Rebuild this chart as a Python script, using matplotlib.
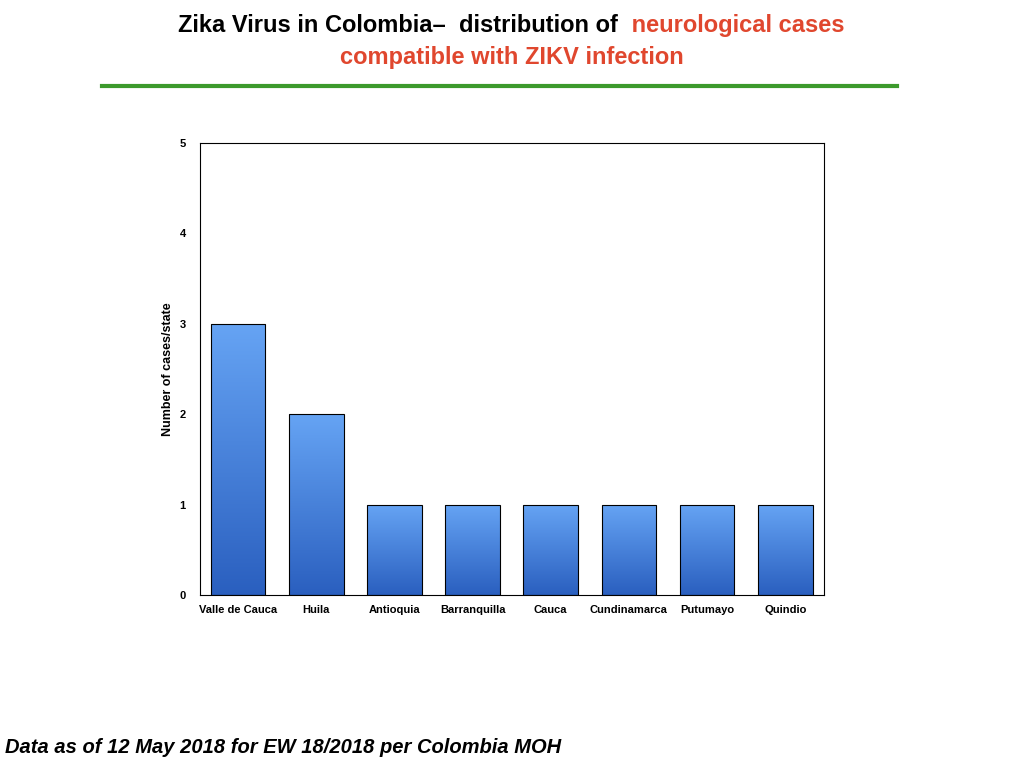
import numpy as np
import matplotlib.pyplot as plt
from matplotlib.colors import LinearSegmentedColormap

states = ["Valle de Cauca", "Huila", "Antioquia", "Barranquilla", "Cauca",
          "Cundinamarca", "Putumayo", "Quindio"]
cases = [3, 2, 1, 1, 1, 1, 1, 1]

plt.rcParams['font.family'] = ['Liberation Sans', 'DejaVu Sans']

fig = plt.figure(figsize=(10.24, 7.68), dpi=100)
ax = fig.add_axes([0.195, 0.225, 0.61, 0.589])

cmap = LinearSegmentedColormap.from_list("blu", ["#2a5fbf", "#66a4f4"])
grad = np.linspace(0, 1, 256).reshape(-1, 1)
bars = ax.bar(range(len(states)), cases, width=0.7, facecolor="none",
              edgecolor="black", linewidth=0.8, zorder=3)
for b in bars:
    x0, h, w = b.get_x(), b.get_height(), b.get_width()
    im = ax.imshow(grad, cmap=cmap, origin="lower", aspect="auto",
                   extent=[x0, x0 + w, 0, h], zorder=2)
    im.set_clip_path(b)

ax.set_xlim(-0.49, 7.5)
ax.set_ylim(0, 5)
ax.set_yticks(range(6))
ax.set_xticks(range(len(states)))
ax.set_xticklabels(states, fontsize=8, fontweight="bold")
ax.tick_params(axis="y", labelsize=8, length=0, pad=10)
ax.tick_params(axis="x", length=0, pad=7)
for lbl in ax.get_yticklabels():
    lbl.set_fontweight("bold")
ax.set_ylabel("Number of cases/state", fontsize=9, fontweight="bold", labelpad=4)

fig.text(0.61, 0.967, "Zika Virus in Colombia\u2013  distribution of ", ha="right",
         va="center", fontsize=17, fontweight="bold")
fig.text(0.61, 0.967, " neurological cases", ha="left", va="center",
         fontsize=17, fontweight="bold", color="#e0472e")
fig.text(0.5, 0.925, "compatible with ZIKV infection", ha="center", va="center",
         fontsize=17, fontweight="bold", color="#e0472e")
fig.add_artist(plt.Line2D([0.1, 0.876], [0.888, 0.888], color="#3c9a2c", linewidth=3))
fig.text(0.005, 0.02, "Data as of 12 May 2018 for EW 18/2018 per Colombia MOH",
         fontsize=14.5, fontweight="bold", style="italic")

fig.savefig("out.png", dpi=100)
